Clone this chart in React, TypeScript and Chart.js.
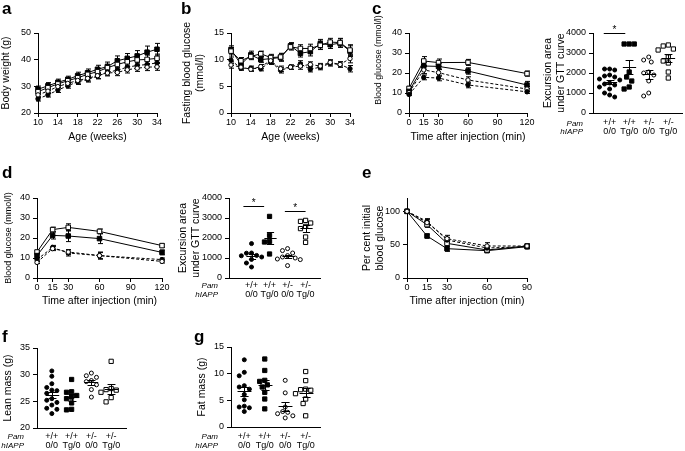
import React, { useEffect, useRef } from 'react';
import { Chart, registerables } from 'chart.js';

Chart.register(...registerables);

const FONT = "'Liberation Sans', Arial, Helvetica, sans-serif";
Chart.defaults.font.family = FONT;

// ---------------- categories / ticks ----------------
const WEEKS = [10, 12, 14, 16, 18, 20, 22, 24, 26, 28, 30, 32, 34];
const WEEK_TICKS = [10, 14, 18, 22, 26, 30, 34];
const GTT_TIMES = [0, 15, 30, 60, 120];
const GTT_TICKS = [0, 15, 30, 60, 90, 120];
const ITT_TIMES = [0, 15, 30, 60, 90];
const ITT_TICKS = [0, 15, 30, 60, 90];
const PAM = ['+/+', '+/+', '+/-', '+/-'];
const HIAPP = ['0/0', 'Tg/0', '0/0', 'Tg/0'];

// ---------------- panel a: body weight (g) ----------------
const A_WT_WT = [25.3, 26.8, 28.6, 30.2, 31.7, 32.6, 33.8, 35.3, 36.0, 37.2, 37.8, 38.2, 38.8];
const A_TG_WT = [28.9, 30.2, 31.5, 32.6, 34.0, 35.1, 36.4, 37.4, 39.6, 40.5, 41.4, 42.8, 43.9];
const A_WT_HET = [26.8, 28.2, 29.9, 31.1, 32.2, 33.0, 34.0, 35.0, 35.2, 36.2, 36.8, 37.2, 37.3];
const A_TG_HET = [28.0, 29.5, 30.9, 32.1, 33.2, 34.5, 35.5, 37.0, 38.2, 39.2, 39.9, 40.1, 40.5];
const A_ERR_WT_WT = [0.8, 0.8, 0.9, 0.9, 1.0, 1.0, 1.0, 1.1, 1.1, 1.2, 1.2, 1.2, 1.3];
const A_ERR_TG_WT = [1.2, 1.2, 1.2, 1.2, 1.3, 1.4, 1.5, 1.7, 1.8, 1.8, 2.0, 2.3, 2.2];
const A_ERR_WT_HET = [0.9, 0.9, 0.9, 1.0, 1.0, 1.0, 1.1, 1.1, 1.2, 1.2, 1.2, 1.3, 1.3];
const A_ERR_TG_HET = [1.0, 1.0, 1.1, 1.1, 1.2, 1.2, 1.3, 1.3, 1.4, 1.5, 1.5, 1.6, 1.6];

// ---------------- panel b: fasting blood glucose (mmol/l) ----------------
const B_WT_WT = [9.9, 8.4, 8.4, 8.3, 9.6, 8.0, 8.6, 9.2, 8.2, 8.6, 9.3, 9.1, 8.3];
const B_TG_WT = [11.9, 9.1, 10.9, 10.0, 10.2, 10.4, 12.6, 11.2, 11.5, 13.0, 12.8, 13.1, 11.6];
const B_WT_HET = [9.0, 8.6, 8.2, 8.7, 9.8, 8.3, 8.6, 8.8, 9.1, 8.8, 9.5, 9.1, 10.2];
const B_TG_HET = [11.6, 9.8, 10.6, 11.1, 10.4, 10.5, 12.4, 12.1, 12.1, 12.7, 13.3, 13.2, 11.8];
const B_ERR_WT_WT = [0.6, 0.4, 0.4, 0.4, 0.5, 0.5, 0.4, 0.6, 0.5, 0.5, 0.5, 0.5, 0.6];
const B_ERR_TG_WT = [0.7, 0.6, 0.7, 0.5, 0.6, 0.7, 0.6, 0.7, 0.8, 0.8, 0.7, 0.8, 1.0];
const B_ERR_WT_HET = [0.6, 0.4, 0.4, 0.4, 0.5, 0.5, 0.4, 0.6, 0.5, 0.5, 0.5, 0.5, 0.8];
const B_ERR_TG_HET = [0.7, 0.6, 0.6, 0.5, 0.6, 0.7, 0.6, 0.7, 0.8, 0.8, 0.7, 0.8, 1.0];

// ---------------- panel c: GTT (mmol/l) ----------------
const C_WT_WT = [9.3, 17.8, 17.5, 14.0, 10.6];
const C_TG_WT = [10.8, 23.5, 23.3, 21.0, 14.0];
const C_WT_HET = [10.2, 21.5, 20.2, 16.5, 12.0];
const C_TG_HET = [12.3, 26.0, 25.2, 25.3, 19.7];
const C_ERR_WT_WT = [0.6, 1.2, 1.4, 1.4, 0.8];
const C_ERR_TG_WT = [0.8, 1.6, 1.6, 1.6, 1.8];
const C_ERR_WT_HET = [0.8, 1.8, 1.8, 1.6, 1.2];
const C_ERR_TG_HET = [1.0, 2.2, 1.8, 1.5, 1.3];

// panel c, excursion area
const C_AUC_WT_WT = [2200, 2200, 2150, 1900, 1850, 1800, 1700, 1650, 1500, 1450, 1400, 1300, 1200, 1000, 900, 800];
const C_AUC_TG_WT = [3450, 3450, 3450, 2050, 1800, 1600, 1300, 1200];
const C_AUC_WT_HET = [2800, 2650, 2550, 2050, 2000, 1900, 1600, 1000, 850];
const C_AUC_TG_HET = [3400, 3350, 3200, 3150, 2800, 2600, 2500, 2050, 1750];
const C_SIG = [{ from: -0.3, to: 0.8, y: 4000 }];

// ---------------- panel d: GTT (mmol/l) ----------------
const D_WT_WT = [9.2, 15.3, 12.5, 11.2, 9.2];
const D_TG_WT = [11.2, 21.3, 21.0, 19.7, 12.8];
const D_WT_HET = [7.8, 14.7, 13.0, 11.2, 8.3];
const D_TG_HET = [13.0, 24.2, 25.3, 23.3, 16.2];
const D_ERR_WT_WT = [0.8, 1.0, 1.5, 1.8, 0.8];
const D_ERR_TG_WT = [1.0, 1.8, 2.8, 2.5, 1.2];
const D_ERR_WT_HET = [0.6, 1.0, 1.2, 1.5, 0.8];
const D_ERR_TG_HET = [0.8, 1.2, 1.8, 1.2, 0.8];

// panel d, excursion area
const D_AUC_WT_WT = [1720, 1250, 1240, 1130, 1110, 1050, 930, 750, 550];
const D_AUC_TG_WT = [3080, 2130, 1830, 1800, 1200];
const D_AUC_WT_HET = [1470, 1370, 1250, 1120, 1050, 1000, 950, 920, 620];
const D_AUC_TG_HET = [2880, 2830, 2750, 2580, 2470, 2050, 1780];
const D_SIG = [
  { from: -0.45, to: 0.7, y: 3600 },
  { from: 1.85, to: 3.0, y: 3330 },
];

// ---------------- panel e: ITT (% initial) ----------------
const E_WT_WT = [100, 85, 57, 45, 47];
const E_TG_WT = [100, 63, 44, 41, 47];
const E_WT_HET = [100, 83, 59, 48, 48];
const E_TG_HET = [100, 80, 52, 42, 48];
const E_ERR_WT_WT = [0, 4, 4, 3, 3];
const E_ERR_TG_WT = [0, 3, 4, 2, 3];
const E_ERR_WT_HET = [0, 5, 5, 5, 3];
const E_ERR_TG_HET = [0, 4, 4, 3, 3];

// ---------------- panel f: lean mass (g) ----------------
const F_WT_WT = [30.7, 29.7, 28.3, 27.6, 27.1, 27.0, 26.5, 25.5, 25.2, 24.8, 24.3, 23.7, 23.5, 22.7];
const F_TG_WT = [29.1, 26.8, 26.7, 26.1, 25.8, 25.5, 24.7, 23.5, 23.4];
const F_WT_HET = [30.3, 29.8, 29.5, 28.9, 28.7, 28.1, 27.2, 25.8];
const F_TG_HET = [32.5, 27.4, 27.2, 27.1, 26.7, 25.7, 24.9];

// ---------------- panel g: fat mass (g) ----------------
const G_WT_WT = [12.6, 10.25, 9.6, 7.75, 7.5, 7.1, 6.1, 5.1, 3.9, 3.75, 3.6, 2.9];
const G_TG_WT = [12.75, 10.6, 8.75, 8.55, 7.9, 7.5, 6.5, 5.25, 3.4];
const G_WT_HET = [8.75, 6.4, 3.75, 2.9, 2.75, 2.5, 2.1, 1.7];
const G_TG_HET = [10.4, 8.7, 7.1, 7.0, 6.9, 6.25, 5.25, 4.4, 2.1];

// ================= styling helpers =================
type Marker = 'fc' | 'fs' | 'oc' | 'os';
const GROUP_MARKERS: Marker[] = ['fc', 'fs', 'oc', 'os'];
const GROUP_DASHED = [true, false, true, false];

function markerProps(m: Marker, small: boolean) {
  const square = m === 'fs' || m === 'os';
  const filled = m === 'fc' || m === 'fs';
  const r = square ? (small ? 3.0 : 3.2) : small ? 2.0 : 2.2;
  return {
    pointStyle: square ? 'rect' : 'circle',
    pointRadius: r,
    pointHoverRadius: r,
    pointBackgroundColor: filled ? '#000' : '#fff',
    pointBorderColor: '#000',
    pointBorderWidth: 1,
  };
}

const TICK_FONT = { family: FONT, size: 9, lineHeight: 1 };
const TITLE_SIZE = 10.5;
const TITLE_LH = 1.2;
const PAD_TOP = 24;

interface PanelSpec {
  left: number;
  top: number;
  width: number;
  height: number;
  config: any;
}

function frame(L: number, R: number, T: number, B: number, yTitleX: number, yTitleSize: number, bottomY: number, padRight: number) {
  const half = (yTitleSize * TITLE_LH) / 2;
  const left = Math.round(yTitleX - half);
  const top = T - PAD_TOP;
  const yw = L - left;
  const width = yw + (R - L) + padRight;
  const height = Math.round(bottomY) - top;
  const xh = height - PAD_TOP - (B - T);
  return { left, top, width, height, yw, xh };
}

function yAxis(min: number, max: number, ticks: number[], title: string | string[] | null, titleSize: number, yw: number) {
  return {
    type: 'linear',
    position: 'left',
    min,
    max,
    afterBuildTicks: (s: any) => {
      s.ticks = ticks.map((v) => ({ value: v }));
    },
    afterFit: (s: any) => {
      s.width = yw;
    },
    ticks: { font: TICK_FONT, color: '#000', padding: 3, autoSkip: false, callback: (v: any) => String(v) },
    grid: { display: true, drawOnChartArea: false, drawTicks: true, tickLength: 4, color: '#000', lineWidth: 1 },
    border: { display: true, color: '#000', width: 1 },
    title: {
      display: !!title,
      text: title || '',
      font: { family: FONT, size: titleSize, lineHeight: TITLE_LH },
      color: '#000',
      padding: 0,
    },
  };
}

function baseOptions(padRight: number, scales: any) {
  return {
    responsive: false,
    maintainAspectRatio: false,
    animation: false,
    devicePixelRatio: 1,
    events: [],
    layout: { padding: { top: PAD_TOP, right: padRight, left: 0, bottom: 0 } },
    plugins: { legend: { display: false }, tooltip: { enabled: false }, title: { display: false } },
    scales,
  };
}

interface LineSeries {
  y: number[];
  err: number[];
  group: number;
}

function linePanel(p: {
  L: number; R: number; T: number; B: number; yTitleX: number; yTitleSize: number; xTitleY: number;
  xVals: number[]; xMin: number; xMax: number; xTicks: number[];
  yMin: number; yMax: number; yTicks: number[];
  yTitle: string | string[] | null; xTitle: string; series: LineSeries[];
}): PanelSpec {
  const padRight = 14;
  const fr = frame(p.L, p.R, p.T, p.B, p.yTitleX, p.yTitleSize, p.xTitleY + (TITLE_SIZE * TITLE_LH) / 2, padRight);
  const datasets = p.series.map((s) => ({
    data: p.xVals.map((x, i) => ({ x, y: s.y[i] })),
    borderColor: '#000',
    borderWidth: 1,
    borderDash: GROUP_DASHED[s.group] ? [3, 2] : [],
    tension: 0,
    fill: false,
    clip: false,
    ...markerProps(GROUP_MARKERS[s.group], false),
  }));
  const errPlugin = {
    id: 'errbars',
    beforeDatasetsDraw(chart: any) {
      const ctx = chart.ctx;
      const xs = chart.scales.x;
      const ys = chart.scales.y;
      ctx.save();
      ctx.strokeStyle = '#000';
      ctx.lineWidth = 1;
      p.series.forEach((s) => {
        s.y.forEach((v, i) => {
          const e = s.err[i];
          if (!e) return;
          const x = Math.round(xs.getPixelForValue(p.xVals[i])) + 0.5;
          const y1 = ys.getPixelForValue(v + e);
          const y2 = ys.getPixelForValue(v - e);
          ctx.beginPath();
          ctx.moveTo(x, y1);
          ctx.lineTo(x, y2);
          ctx.moveTo(x - 2.5, y1);
          ctx.lineTo(x + 2.5, y1);
          ctx.moveTo(x - 2.5, y2);
          ctx.lineTo(x + 2.5, y2);
          ctx.stroke();
        });
      });
      ctx.restore();
    },
  };
  const xh = fr.xh;
  const scales = {
    x: {
      type: 'linear',
      position: 'bottom',
      min: p.xMin,
      max: p.xMax,
      afterBuildTicks: (s: any) => {
        s.ticks = p.xTicks.map((v) => ({ value: v }));
      },
      afterFit: (s: any) => {
        s.height = xh;
      },
      ticks: { font: TICK_FONT, color: '#000', padding: 1, autoSkip: false, maxRotation: 0, minRotation: 0, callback: (v: any) => String(v) },
      grid: { display: true, drawOnChartArea: false, drawTicks: true, tickLength: 4, color: '#000', lineWidth: 1 },
      border: { display: true, color: '#000', width: 1 },
      title: {
        display: true,
        text: p.xTitle,
        font: { family: FONT, size: TITLE_SIZE, lineHeight: TITLE_LH },
        color: '#000',
        padding: 0,
      },
    },
    y: yAxis(p.yMin, p.yMax, p.yTicks, p.yTitle, p.yTitleSize, fr.yw),
  };
  return {
    left: fr.left,
    top: fr.top,
    width: fr.width,
    height: fr.height,
    config: { type: 'line', data: { datasets }, options: baseOptions(padRight, scales), plugins: [errPlugin] },
  };
}

// horizontal spreading of dots with near-equal values (layout only)
function swarm(values: number[], pxPerUnitY: number, pxPerCat: number, diam: number): number[] {
  const order = values.map((_, i) => i).sort((a, b) => values[b] - values[a]);
  const placed: { x: number; y: number }[] = [];
  const offs = values.map(() => 0);
  for (const i of order) {
    const y = values[i] * pxPerUnitY;
    for (let k = 0; k < 60; k++) {
      const step = k === 0 ? 0 : (k % 2 === 1 ? -1 : 1) * Math.ceil(k / 2);
      const cand = (step * diam) / 2;
      if (placed.every((q) => Math.hypot(q.x - cand, q.y - y) >= diam)) {
        placed.push({ x: cand, y });
        offs[i] = cand / pxPerCat;
        break;
      }
    }
  }
  return offs;
}

function scatterPanel(p: {
  L: number; R: number; T: number; B: number; yTitleX: number;
  xMin: number; xMax: number; labelPad: number;
  yMin: number; yMax: number; yTicks: number[];
  yTitle: string | string[]; groups: number[][];
  sig: { from: number; to: number; y: number }[];
}): PanelSpec {
  const padRight = 2;
  const fr = frame(p.L, p.R, p.T, p.B, p.yTitleX, TITLE_SIZE, p.B + 26, padRight);
  const pxY = (p.B - p.T) / (p.yMax - p.yMin);
  const pxX = (p.R - p.L) / (p.xMax - p.xMin);
  const datasets = p.groups.map((vals, g) => {
    const offs = swarm(vals, pxY, pxX, 5.2);
    return {
      data: vals.map((v, i) => ({ x: g + offs[i], y: v })),
      showLine: false,
      clip: false,
      ...markerProps(GROUP_MARKERS[g], true),
    };
  });
  const overlay = {
    id: 'meansem',
    afterDatasetsDraw(chart: any) {
      const ctx = chart.ctx;
      const xs = chart.scales.x;
      const ys = chart.scales.y;
      ctx.save();
      ctx.strokeStyle = '#000';
      ctx.fillStyle = '#000';
      ctx.lineWidth = 1;
      p.groups.forEach((vals, g) => {
        const n = vals.length;
        const mean = vals.reduce((a, b) => a + b, 0) / n;
        const sd = Math.sqrt(vals.reduce((a, b) => a + (b - mean) * (b - mean), 0) / (n - 1));
        const sem = sd / Math.sqrt(n);
        const xc = Math.round(xs.getPixelForValue(g)) + 0.5;
        const hw = xs.getPixelForValue(g + 0.34) - xs.getPixelForValue(g);
        const cw = xs.getPixelForValue(g + 0.2) - xs.getPixelForValue(g);
        const ym = Math.round(ys.getPixelForValue(mean)) + 0.5;
        const y1 = Math.round(ys.getPixelForValue(mean + sem)) + 0.5;
        const y2 = Math.round(ys.getPixelForValue(mean - sem)) + 0.5;
        ctx.beginPath();
        ctx.moveTo(xc - hw, ym);
        ctx.lineTo(xc + hw, ym);
        ctx.moveTo(xc, y1);
        ctx.lineTo(xc, y2);
        ctx.moveTo(xc - cw, y1);
        ctx.lineTo(xc + cw, y1);
        ctx.moveTo(xc - cw, y2);
        ctx.lineTo(xc + cw, y2);
        ctx.stroke();
      });
      ctx.font = `10px ${FONT}`;
      ctx.textAlign = 'center';
      ctx.textBaseline = 'alphabetic';
      p.sig.forEach((b) => {
        const x1 = xs.getPixelForValue(b.from);
        const x2 = xs.getPixelForValue(b.to);
        const y = Math.round(ys.getPixelForValue(b.y)) + 0.5;
        ctx.beginPath();
        ctx.moveTo(x1, y);
        ctx.lineTo(x2, y);
        ctx.stroke();
        ctx.fillText('*', (x1 + x2) / 2, y - 0.5);
      });
      ctx.restore();
    },
  };
  const xh = fr.xh;
  const scales = {
    x: {
      type: 'linear',
      position: 'bottom',
      min: p.xMin,
      max: p.xMax,
      afterBuildTicks: (s: any) => {
        s.ticks = [0, 1, 2, 3].map((v) => ({ value: v }));
      },
      afterFit: (s: any) => {
        s.height = xh;
      },
      ticks: {
        font: TICK_FONT,
        color: '#000',
        padding: p.labelPad,
        autoSkip: false,
        maxRotation: 0,
        minRotation: 0,
        callback: (v: any) => [PAM[v], HIAPP[v]],
      },
      grid: { display: false, drawOnChartArea: false, drawTicks: false, tickLength: 0 },
      border: { display: true, color: '#000', width: 1 },
      title: { display: false },
    },
    y: yAxis(p.yMin, p.yMax, p.yTicks, p.yTitle, TITLE_SIZE, fr.yw),
  };
  return {
    left: fr.left,
    top: fr.top,
    width: fr.width,
    height: fr.height,
    config: { type: 'line', data: { datasets }, options: baseOptions(padRight, scales), plugins: [overlay] },
  };
}

// ================= panels =================
const PANELS: PanelSpec[] = [
  linePanel({
    L: 38, R: 157, T: 33, B: 113, yTitleX: 6, yTitleSize: 10.5, xTitleY: 137,
    xVals: WEEKS, xMin: 10, xMax: 34, xTicks: WEEK_TICKS,
    yMin: 20, yMax: 50, yTicks: [20, 30, 40, 50],
    yTitle: 'Body weight (g)', xTitle: 'Age (weeks)',
    series: [
      { y: A_WT_HET, err: A_ERR_WT_HET, group: 2 },
      { y: A_WT_WT, err: A_ERR_WT_WT, group: 0 },
      { y: A_TG_HET, err: A_ERR_TG_HET, group: 3 },
      { y: A_TG_WT, err: A_ERR_TG_WT, group: 1 },
    ],
  }),
  linePanel({
    L: 231, R: 350, T: 33, B: 113, yTitleX: 187, yTitleSize: 10.5, xTitleY: 137,
    xVals: WEEKS, xMin: 10, xMax: 34, xTicks: WEEK_TICKS,
    yMin: 0, yMax: 15, yTicks: [0, 5, 10, 15],
    yTitle: ['Fasting blood glucose', '(mmol/l)'], xTitle: 'Age (weeks)',
    series: [
      { y: B_WT_HET, err: B_ERR_WT_HET, group: 2 },
      { y: B_WT_WT, err: B_ERR_WT_WT, group: 0 },
      { y: B_TG_HET, err: B_ERR_TG_HET, group: 3 },
      { y: B_TG_WT, err: B_ERR_TG_WT, group: 1 },
    ],
  }),
  linePanel({
    L: 409, R: 527, T: 33, B: 113, yTitleX: 378, yTitleSize: 9, xTitleY: 137,
    xVals: GTT_TIMES, xMin: 0, xMax: 120, xTicks: GTT_TICKS,
    yMin: 0, yMax: 40, yTicks: [0, 10, 20, 30, 40],
    yTitle: null, xTitle: 'Time after injection (min)',
    series: [
      { y: C_WT_WT, err: C_ERR_WT_WT, group: 0 },
      { y: C_WT_HET, err: C_ERR_WT_HET, group: 2 },
      { y: C_TG_WT, err: C_ERR_TG_WT, group: 1 },
      { y: C_TG_HET, err: C_ERR_TG_HET, group: 3 },
    ],
  }),
  scatterPanel({
    L: 593, R: 684, T: 33, B: 113, yTitleX: 548,
    xMin: -0.85, xMax: 3.7, labelPad: 5.5,
    yMin: 0, yMax: 4000, yTicks: [0, 1000, 2000, 3000, 4000],
    yTitle: ['Excursion area', 'under GTT curve'],
    groups: [C_AUC_WT_WT, C_AUC_TG_WT, C_AUC_WT_HET, C_AUC_TG_HET],
    sig: C_SIG,
  }),
  linePanel({
    L: 37, R: 162, T: 198, B: 278, yTitleX: 8, yTitleSize: 9, xTitleY: 301,
    xVals: GTT_TIMES, xMin: 0, xMax: 120, xTicks: GTT_TICKS,
    yMin: 0, yMax: 40, yTicks: [0, 10, 20, 30, 40],
    yTitle: 'Blood glucose (mmol/l)', xTitle: 'Time after injection (min)',
    series: [
      { y: D_WT_HET, err: D_ERR_WT_HET, group: 2 },
      { y: D_WT_WT, err: D_ERR_WT_WT, group: 0 },
      { y: D_TG_WT, err: D_ERR_TG_WT, group: 1 },
      { y: D_TG_HET, err: D_ERR_TG_HET, group: 3 },
    ],
  }),
  scatterPanel({
    L: 229, R: 322, T: 198, B: 278, yTitleX: 183,
    xMin: -1.25, xMax: 3.8, labelPad: 3.5,
    yMin: 0, yMax: 4000, yTicks: [0, 1000, 2000, 3000, 4000],
    yTitle: ['Excursion area', 'under GTT curve'],
    groups: [D_AUC_WT_WT, D_AUC_TG_WT, D_AUC_WT_HET, D_AUC_TG_HET],
    sig: D_SIG,
  }),
  linePanel({
    L: 407, R: 527, T: 198, B: 278, yTitleX: 367, yTitleSize: 10.5, xTitleY: 301,
    xVals: ITT_TIMES, xMin: 0, xMax: 90, xTicks: ITT_TICKS,
    yMin: 0, yMax: 120, yTicks: [0, 50, 100],
    yTitle: ['Per cent initial', 'blood glucose'], xTitle: 'Time after injection (min)',
    series: [
      { y: E_WT_HET, err: E_ERR_WT_HET, group: 2 },
      { y: E_WT_WT, err: E_ERR_WT_WT, group: 0 },
      { y: E_TG_HET, err: E_ERR_TG_HET, group: 3 },
      { y: E_TG_WT, err: E_ERR_TG_WT, group: 1 },
    ],
  }),
  scatterPanel({
    L: 37, R: 128, T: 348, B: 428, yTitleX: 8,
    xMin: -0.75, xMax: 3.75, labelPad: 4.5,
    yMin: 20, yMax: 35, yTicks: [20, 25, 30, 35],
    yTitle: 'Lean mass (g)',
    groups: [F_WT_WT, F_TG_WT, F_WT_HET, F_TG_HET],
    sig: [],
  }),
  scatterPanel({
    L: 231, R: 322, T: 347, B: 427, yTitleX: 202,
    xMin: -0.65, xMax: 3.7, labelPad: 5.5,
    yMin: 0, yMax: 15, yTicks: [0, 5, 10, 15],
    yTitle: 'Fat mass (g)',
    groups: [G_WT_WT, G_TG_WT, G_WT_HET, G_TG_HET],
    sig: [],
  }),
];

const LETTERS = [
  { t: 'a', x: 2, y: 0 },
  { t: 'b', x: 181, y: 0 },
  { t: 'c', x: 372, y: 0 },
  { t: 'd', x: 2, y: 164 },
  { t: 'e', x: 362, y: 164 },
  { t: 'f', x: 2, y: 328 },
  { t: 'g', x: 194, y: 328 },
];

const ROW_NAMES = [
  { right: 583, c1: 123.5, c2: 131.5 },
  { right: 218, c1: 286, c2: 295 },
  { right: 24, c1: 437, c2: 446 },
  { right: 218, c1: 437, c2: 446 },
];

// panel c y-axis title (sits higher than the plot centre, as in the original)
const C_Y_TITLE = { text: 'Blood glucose (mmol/l)', cx: 378, cy: 60, size: 8.8 };

function ChartCanvas({ spec }: { spec: PanelSpec }) {
  const ref = useRef<HTMLCanvasElement>(null);
  useEffect(() => {
    if (!ref.current) return;
    const chart = new Chart(ref.current, spec.config);
    return () => chart.destroy();
  }, [spec]);
  return (
    <canvas
      ref={ref}
      width={spec.width}
      height={spec.height}
      style={{ position: 'absolute', left: spec.left, top: spec.top, width: spec.width, height: spec.height }}
    />
  );
}

export default function App() {
  return (
    <div
      style={{
        position: 'fixed',
        left: 0,
        top: 0,
        width: 685,
        height: 451,
        background: '#fff',
        overflow: 'hidden',
        fontFamily: FONT,
        color: '#000',
      }}
    >
      {PANELS.map((p, i) => (
        <ChartCanvas key={i} spec={p} />
      ))}
      <div
        style={{
          position: 'absolute',
          left: C_Y_TITLE.cx - 60,
          top: C_Y_TITLE.cy - 6,
          width: 120,
          height: 12,
          lineHeight: '12px',
          fontSize: C_Y_TITLE.size,
          textAlign: 'center',
          whiteSpace: 'nowrap',
          transform: 'rotate(-90deg)',
          transformOrigin: '50% 50%',
        }}
      >
        {C_Y_TITLE.text}
      </div>
      {LETTERS.map((l) => (
        <div
          key={l.t}
          style={{ position: 'absolute', left: l.x, top: l.y, fontSize: 17, lineHeight: '17px', fontWeight: 'bold' }}
        >
          {l.t}
        </div>
      ))}
      {ROW_NAMES.map((r, i) => (
        <React.Fragment key={i}>
          <div
            style={{
              position: 'absolute', left: r.right - 40, width: 40, top: r.c1 - 5, height: 10,
              lineHeight: '10px', fontSize: 8, fontStyle: 'italic', textAlign: 'right', whiteSpace: 'nowrap',
            }}
          >
            Pam
          </div>
          <div
            style={{
              position: 'absolute', left: r.right - 40, width: 40, top: r.c2 - 5, height: 10,
              lineHeight: '10px', fontSize: 8, fontStyle: 'italic', textAlign: 'right', whiteSpace: 'nowrap',
            }}
          >
            hIAPP
          </div>
        </React.Fragment>
      ))}
    </div>
  );
}
